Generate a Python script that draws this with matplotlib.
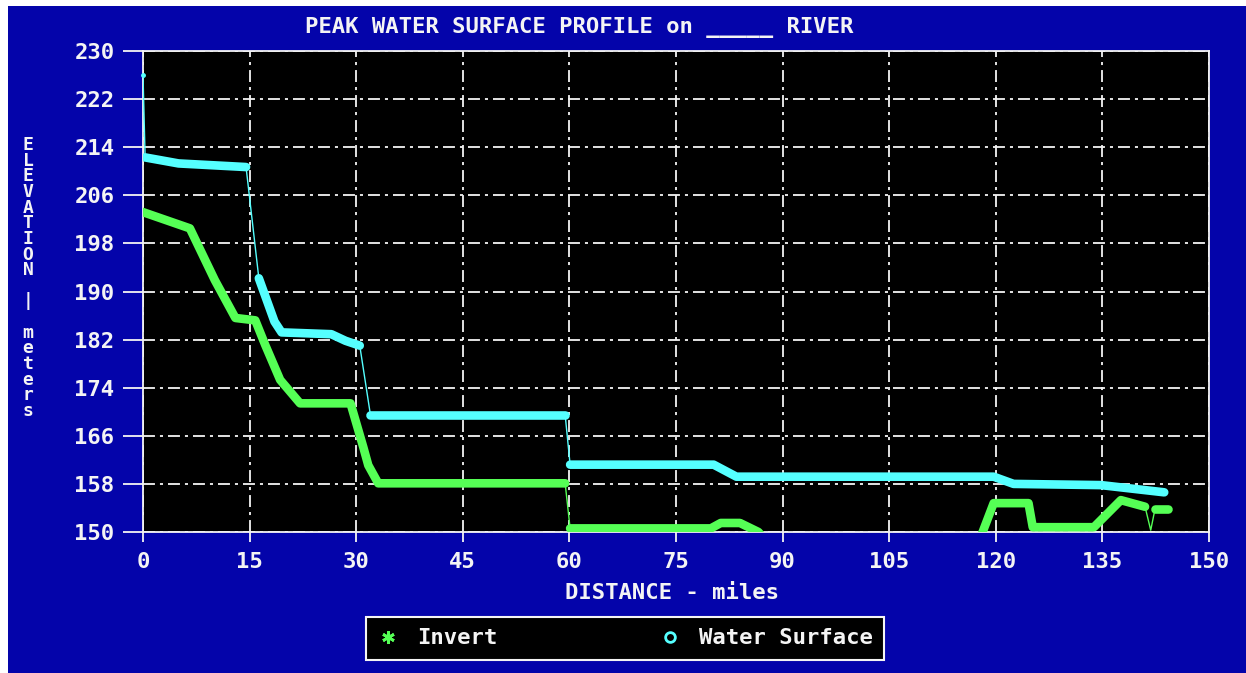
import matplotlib
matplotlib.use("Agg")
import matplotlib.pyplot as plt
from matplotlib.lines import Line2D
from matplotlib.patches import Rectangle
import numpy as np

# ---- data ----
ws_mile = [0.0, 0.3, 5.0, 14.5, 16.3, 18.5, 19.5, 26.5, 28.5, 30.5, 32.0,
           59.4, 60.1, 80.3, 83.5, 119.7, 122.5, 134.8, 143.7]
ws_elev = [226.0, 212.3, 211.3, 210.7, 192.2, 185.0, 183.2, 182.9, 181.8, 181.0, 169.5,
           169.5, 161.2, 161.2, 159.2, 159.2, 158.0, 157.8, 156.6]

inv_mile = [0.0, 6.6, 10.1, 13.0, 15.8, 17.2, 19.3, 22.1, 29.2, 31.0, 31.7, 33.1,
            59.4, 60.1, 79.9, 81.3, 84.0, 86.6, 88.0, 117.5, 119.7, 124.6, 125.2,
            133.8, 137.6, 141.0, 141.8, 142.4, 144.2]
inv_elev = [203.2, 200.5, 191.9, 185.6, 185.2, 181.1, 175.3, 171.4, 171.4, 164.1, 161.1, 158.1,
            158.1, 150.6, 150.6, 151.5, 151.5, 150.0, 148.0, 148.0, 154.8, 154.8, 150.8,
            150.8, 155.3, 154.2, 150.3, 153.8, 153.8]

x_ticks = [0, 15, 30, 45, 60, 75, 90, 105, 120, 135, 150]
y_ticks = [150, 158, 166, 174, 182, 190, 198, 206, 214, 222, 230]

title_text = "PEAK WATER SURFACE PROFILE on _____ RIVER"
xlabel_text = "DISTANCE - miles"
ylabel_text = "ELEVATION | meters"
legend_labels = ["Invert", "Water Surface"]

# ---- style ----
BLUE = "#0404AA"
CYAN = "#55FFFF"
GREEN = "#55FF55"
WHITE = "#F4F4F4"
FONT = "DejaVu Sans Mono"
FS = 16

# index ranges drawn as dense (thick) reaches
ws_reaches = [(1, 3), (4, 9), (10, 11), (12, 18)]
inv_reaches = [(0, 12), (13, 25), (27, 28)]

plt.rcParams["lines.scale_dashes"] = False
fig = plt.figure(figsize=(12.46, 6.73), dpi=100, facecolor="white")
fig.patches.append(Rectangle((8 / 1246, 0), 1 - 8 / 1246, 1 - 6 / 673,
                             transform=fig.transFigure, facecolor=BLUE,
                             edgecolor="none", zorder=-10))

ax = fig.add_axes([143 / 1246, 141 / 673, 1066 / 1246, 481 / 673])
ax.set_facecolor("black")
ax.set_xlim(0, 150)
ax.set_ylim(150, 230)

for s in ax.spines.values():
    s.set_color(WHITE)
    s.set_linewidth(1.3)

ax.set_xticks(x_ticks)
ax.set_yticks(y_ticks)
ax.tick_params(axis="y", direction="out", length=14.5, width=1.3, color=WHITE,
               labelcolor=WHITE, pad=6)
ax.tick_params(axis="x", direction="out", length=7.5, width=1.3, color=WHITE,
               labelcolor=WHITE, pad=7)
for lab in ax.get_xticklabels() + ax.get_yticklabels():
    lab.set_fontfamily(FONT)
    lab.set_fontweight("bold")
    lab.set_fontsize(FS)

ax.grid(True, color=WHITE, linewidth=1.3, linestyle=(0, (8.6, 3.6, 2.2, 3.6)))
ax.set_axisbelow(True)

# thin connecting lines
ax.plot(ws_mile, ws_elev, color=CYAN, lw=1.0, zorder=3)
ax.plot(inv_mile, inv_elev, color=GREEN, lw=1.0, zorder=3)
# dense reaches
for a, b in ws_reaches:
    ax.plot(ws_mile[a:b + 1], ws_elev[a:b + 1], color=CYAN, lw=6.2,
            solid_capstyle="round", solid_joinstyle="round", zorder=4)
for a, b in inv_reaches:
    ax.plot(inv_mile[a:b + 1], inv_elev[a:b + 1], color=GREEN, lw=6.2,
            solid_capstyle="round", solid_joinstyle="round", zorder=4)
ax.plot(ws_mile[:1], ws_elev[:1], "o", color=CYAN, ms=2.5, zorder=5, clip_on=False)

fig.text(579 / 1246, 1 - 28 / 673, title_text, color=WHITE, fontfamily=FONT,
         fontweight="bold", fontsize=FS, ha="center", va="center")
fig.text(672 / 1246, 1 - 593 / 673, xlabel_text, color=WHITE, fontfamily=FONT,
         fontweight="bold", fontsize=FS, ha="center", va="center")
fig.text(28 / 1246, 1 - 278 / 673, "\n".join(ylabel_text.replace(" | ", "  |  ")).replace("\n \n", "\n"),
         color=WHITE, fontfamily=FONT, fontweight="bold", fontsize=13,
         ha="center", va="center", linespacing=0.83)

handles = [Line2D([], [], ls="none", marker=(6, 2, 0), color=GREEN, ms=9, mew=2),
           Line2D([], [], ls="none", marker="o", mfc="none", mec=CYAN, ms=7, mew=2)]
leg = fig.legend(handles, legend_labels, loc="center",
                 bbox_to_anchor=(625 / 1246, 34.5 / 673), ncol=2,
                 frameon=True, fancybox=False, facecolor="black", edgecolor=WHITE,
                 framealpha=1, borderpad=0.5, handlelength=1.0, handletextpad=0.8,
                 columnspacing=7.3,
                 prop={"family": FONT, "weight": "bold", "size": FS})
leg.get_frame().set_linewidth(1.5)
for t in leg.get_texts():
    t.set_color(WHITE)

fig.savefig("out.png", dpi=100, facecolor=fig.get_facecolor())
